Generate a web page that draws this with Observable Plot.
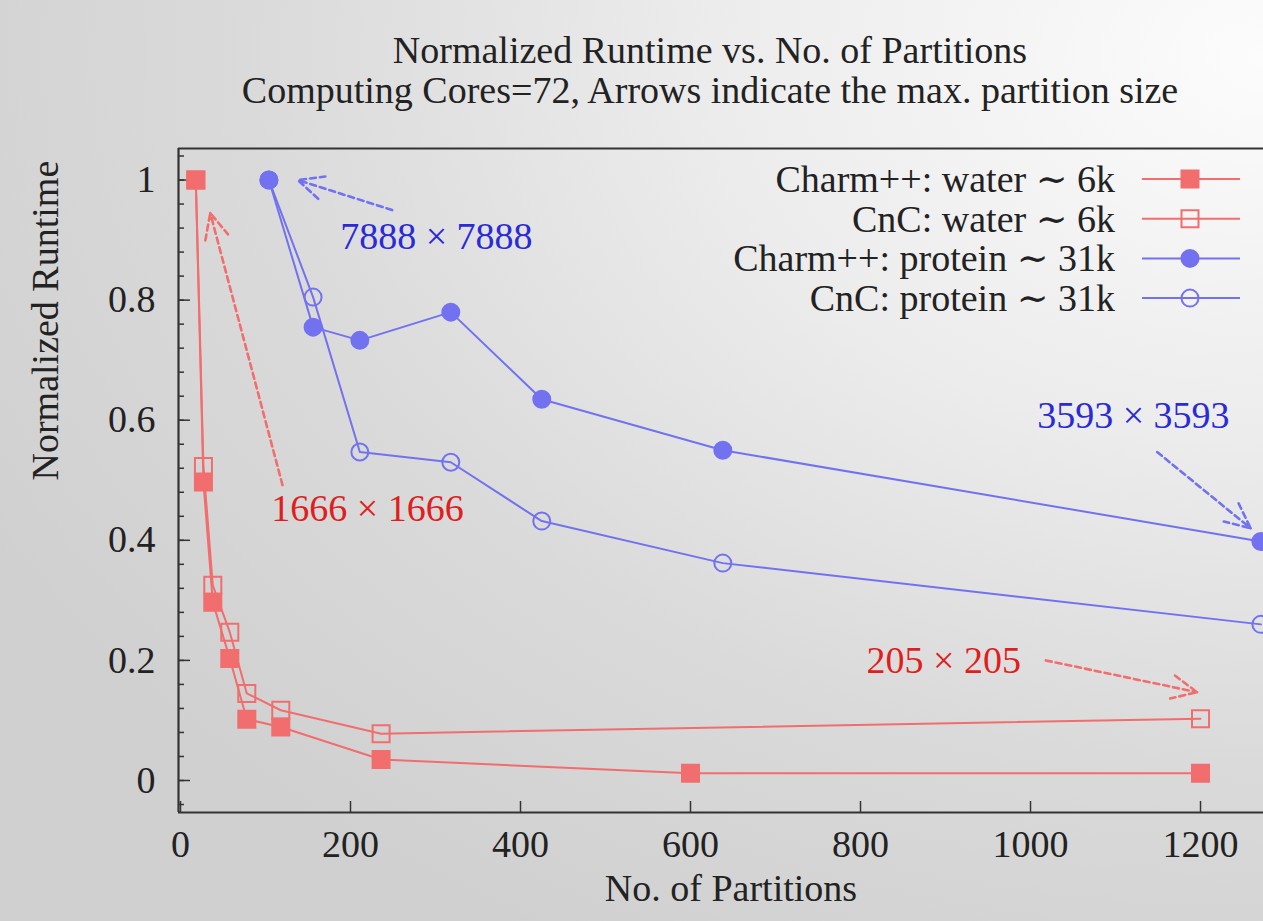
<!DOCTYPE html>
<html>
<head>
<meta charset="utf-8">
<script src="https://cdn.jsdelivr.net/npm/d3@7"></script>
<script src="https://cdn.jsdelivr.net/npm/@observablehq/plot@0.6"></script>
<style>
html, body { margin: 0; padding: 0; width: 1263px; height: 921px; overflow: hidden; }
body {
  background: radial-gradient(ellipse 115% 110% at 100% 6%, #fcfcfc 0%, #ececec 38%, #dadada 70%, #d0d0d0 100%);
  font-family: "Liberation Serif", "Times New Roman", Times, "DejaVu Serif", serif;
  position: relative;
}
#title {
  position: absolute; left: 0; top: 0; width: 1420px; height: 110px;
  box-sizing: border-box; padding-top: 30px;
  font-family: "Liberation Serif", "Times New Roman", Times, "DejaVu Serif", serif;
  text-align: center; color: #222; font-size: 38px; line-height: 40px;
}
#chart { position: absolute; left: 0; top: 110px; }
#chart svg text { font-family: "Liberation Serif", "Times New Roman", Times, "DejaVu Serif", serif; }
</style>
</head>
<body>
<div id="title">Normalized Runtime vs. No. of Partitions<br>Computing Cores=72, Arrows indicate the max. partition size</div>
<div id="chart"></div>
<script>
// ---- data ----
const charmWaterX = [18, 27, 38, 58, 78, 118, 236, 600, 1200];
const charmWaterY = [1.0, 0.497, 0.297, 0.203, 0.102, 0.089, 0.035, 0.012, 0.012];
const cncWaterX = [18, 27, 38, 58, 78, 118, 236, 1200];
const cncWaterY = [1.0, 0.523, 0.325, 0.247, 0.145, 0.117, 0.078, 0.103];
const charmProteinX = [104, 156, 211, 318, 425, 638, 1271];
const charmProteinY = [1.0, 0.755, 0.733, 0.78, 0.635, 0.55, 0.398];
const cncProteinX = [104, 156, 211, 318, 425, 638, 1271];
const cncProteinY = [1.0, 0.805, 0.547, 0.53, 0.432, 0.362, 0.26];

const seriesNames = ["Charm++: water \u223C 6k", "CnC: water \u223C 6k", "Charm++: protein \u223C 31k", "CnC: protein \u223C 31k"];

const yMajor = [0, 0.2, 0.4, 0.6, 0.8, 1];
const xMajor = [0, 200, 400, 600, 800, 1000, 1200];

// annotations (max partition size)
const noteText = ["7888 \u00D7 7888", "1666 \u00D7 1666", "3593 \u00D7 3593", "205 \u00D7 205"];
const noteX = [301, 220, 1121, 898];
const noteY = [0.905, 0.453, 0.608, 0.2];
const noteKind = ["protein", "water", "protein", "water"];
const arrowX1 = [249, 120, 1149, 1018];
const arrowY1 = [0.95, 0.492, 0.547, 0.2];
const arrowX2 = [138, 35, 1259, 1196];
const arrowY2 = [1.0, 0.945, 0.42, 0.147];

// ---- styling ----
const RED = "#f26d6d", BLUE = "#7272f0";
const RED_TEXT = "#e01e1e", BLUE_TEXT = "#2a2ad8";
const FONT = "'Liberation Serif', 'Times New Roman', Times, 'DejaVu Serif', serif";
const FS = 38;

const xDomain = [-2.35, 1274.1];
const yDomain = [-0.0533, 1.0525];
const yMinor = d3.range(-1, 27).map(i => +(i * 0.04).toFixed(2));

const W = 1263, H = 811, ML = 178, MR = 0, MT = 38, MB = 109;

const seriesDefs = [
  {name: seriesNames[0], xs: charmWaterX, ys: charmWaterY, color: RED, symbol: "square", filled: true},
  {name: seriesNames[1], xs: cncWaterX, ys: cncWaterY, color: RED, symbol: "square", filled: false},
  {name: seriesNames[2], xs: charmProteinX, ys: charmProteinY, color: BLUE, symbol: "circle", filled: true},
  {name: seriesNames[3], xs: cncProteinX, ys: cncProteinY, color: BLUE, symbol: "circle", filled: false}
];
const tables = seriesDefs.map(s => s.xs.map((x, i) => ({series: s.name, x, y: s.ys[i]})));
const notes = noteText.map((t, i) => ({
  text: t, x: noteX[i], y: noteY[i],
  x1: arrowX1[i], y1: arrowY1[i], x2: arrowX2[i], y2: arrowY2[i],
  kind: noteKind[i]
}));

const rSym = s => s.symbol === "square" ? 9.6 : 8.5;

const seriesMarks = [];
[2, 3, 0, 1].forEach(k => {
  const s = seriesDefs[k];
  seriesMarks.push(Plot.line(tables[k], {x: "x", y: "y", stroke: s.color, strokeWidth: 2}));
  seriesMarks.push(Plot.dot(tables[k], {
    x: "x", y: "y", symbol: s.symbol, r: rSym(s),
    fill: s.filled ? s.color : "none", stroke: s.color, strokeWidth: 2
  }));
});

// legend drawn inside the frame, top-right
function legendMark() {
  const g = d3.create("svg:g");
  seriesDefs.forEach((s, i) => {
    const cy = MT + 31 + i * 39.7;
    g.append("text")
      .attr("x", 1115).attr("y", cy).attr("dy", "0.34em")
      .attr("text-anchor", "end").style("font-family", FONT).attr("font-size", FS)
      .attr("fill", "#222").text(s.name);
    g.append("line")
      .attr("x1", 1142).attr("x2", 1240).attr("y1", cy).attr("y2", cy)
      .attr("stroke", s.color).attr("stroke-width", 2);
    const size = s.symbol === "square" ? 17 * 17 : Math.PI * 8.5 * 8.5;
    g.append("path")
      .attr("transform", `translate(1190,${cy})`)
      .attr("d", d3.symbol(s.symbol === "square" ? d3.symbolSquare : d3.symbolCircle, size)())
      .attr("fill", s.filled ? s.color : "none")
      .attr("stroke", s.color).attr("stroke-width", 2);
  });
  return g.node();
}

const plot = Plot.plot({
  width: W, height: H,
  marginLeft: ML, marginRight: MR, marginTop: MT, marginBottom: MB,
  style: {background: "transparent", fontFamily: FONT, fontSize: FS + "px", color: "#222", overflow: "visible"},
  x: {domain: xDomain, label: null},
  y: {domain: yDomain, label: null},
  marks: [
    // frame (left, top, bottom; right edge is beyond the picture)
    Plot.ruleX([xDomain[0]], {stroke: "#333", strokeWidth: 2.2}),
    Plot.ruleY([yDomain[0], yDomain[1]], {stroke: "#333", strokeWidth: 2.2}),
    // inward ticks
    Plot.axisY({ticks: yMinor, tickSize: -6, tickFormat: () => "", stroke: "#333", strokeWidth: 1.5, label: null}),
    Plot.axisY({ticks: yMajor, tickSize: -12, tickFormat: () => "", stroke: "#333", strokeWidth: 1.5, label: null}),
    Plot.axisX({ticks: xMajor, tickSize: -11, tickFormat: () => "", stroke: "#333", strokeWidth: 1.5, label: null}),
    // tick labels
    Plot.axisY({ticks: yMajor, tickSize: 0, tickPadding: 23, tickFormat: d => String(d), fontSize: FS, fill: "#222", label: null}),
    Plot.axisX({ticks: xMajor, tickSize: 0, tickPadding: 18, tickFormat: d => String(d), fontSize: FS, fill: "#222", label: null}),
    // axis titles
    Plot.text(["Normalized Runtime"], {frameAnchor: "left", rotate: -90, dx: -133, fontSize: FS, fill: "#222", text: d => d}),
    Plot.text(["No. of Partitions"], {frameAnchor: "bottom", dy: 88, dx: 10, fontSize: FS, fill: "#222", text: d => d}),
    // series
    ...seriesMarks,
    // annotation arrows and labels
    Plot.arrow(notes, {
      x1: "x1", y1: "y1", x2: "x2", y2: "y2",
      stroke: d => d.kind === "water" ? RED : BLUE,
      strokeWidth: 2.6, strokeDasharray: "6,4", headLength: 16, headAngle: 50
    }),
    Plot.text(notes, {
      x: "x", y: "y", text: "text", fontSize: FS,
      fill: d => d.kind === "water" ? RED_TEXT : BLUE_TEXT
    }),
    legendMark
  ]
});
document.getElementById("chart").append(plot);
</script>
</body>
</html>
